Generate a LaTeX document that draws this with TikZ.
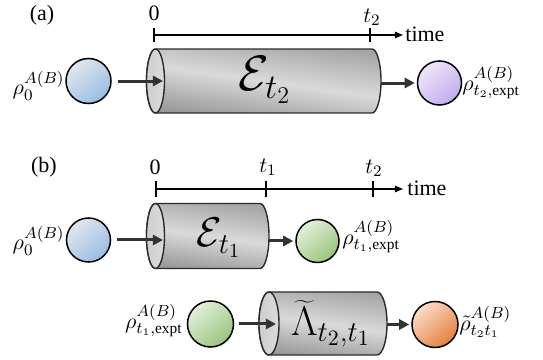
\documentclass[tikz,border=0pt]{standalone}
\usepackage{fontspec}
\setmainfont{Liberation Serif}
\usetikzlibrary{arrows.meta}

\definecolor{blueL}{HTML}{E2E7EE}
\definecolor{blueD}{HTML}{98BDE3}
\definecolor{purL}{HTML}{EEE7F9}
\definecolor{purD}{HTML}{C2ABEF}
\definecolor{grnL}{HTML}{E3F0DA}
\definecolor{grnD}{HTML}{9AC47F}
\definecolor{orgL}{HTML}{FBDDC8}
\definecolor{orgD}{HTML}{E2813F}
\definecolor{cylT}{HTML}{A6A6A6}
\definecolor{cylM}{HTML}{DADADA}
\definecolor{cylB}{HTML}{999999}
\definecolor{endF}{HTML}{DCDCDC}
\definecolor{edge}{HTML}{2B2B2B}

\newcommand\mycyl[5]{%
  \shadedraw[cylbody] (#1,#2+#5) -- (#3,#2+#5)
    arc[start angle=90,end angle=-90,x radius=#4,y radius=#5]
    -- (#1,#2-#5)
    arc[start angle=270,end angle=90,x radius=#4,y radius=#5] -- cycle;
  \filldraw[cylend] (#1,#2) ellipse[x radius=#4,y radius=#5];
}

\tikzset{
  ball/.style={circle, draw=black, line width=0.75pt, minimum size=#1, inner sep=0pt},
  cylbody/.style={draw=edge, line width=0.7pt, top color=cylT, bottom color=cylB, middle color=cylM, shading angle=-8},
  cylend/.style={draw=edge, line width=0.7pt, left color=endF!85!gray, right color=endF},
  conn/.style={draw=black!80, line width=1.5pt, -{Triangle[length=5pt,width=5pt]}},
  axisline/.style={draw=black, line width=0.7pt, -{Triangle[length=4pt,width=3.2pt]}},
  tick/.style={draw=black, line width=0.7pt},
  lbl/.style={inner sep=1pt, font=\fontsize{11}{13}\selectfont},
  txt/.style={inner sep=0pt, font=\fontsize{11}{13}\selectfont},
}

\begin{document}
\begin{tikzpicture}[x=0.5pt,y=0.5pt]
\useasboundingbox (0,0) rectangle (543,360);

% ---------------- (a) ----------------
\node[txt] (lblA) at (42,345) {(a)};
\node[txt] (zeroA) at (154,347) {0};
\node[txt] (t2A) at (372,343) {$t_2$};
\coordinate (axA0) at (154,325);
\coordinate (axA1) at (403,325);
\draw[axisline] (axA0) -- (axA1);
\draw[tick] (154,318) -- (154,332);
\draw[tick] (370,318) -- (370,332);
\node[txt, anchor=west] (timeA) at (405,326) {time};

\node[ball=22.5pt, top color=blueL, bottom color=blueD, shading angle=40] (ballA0) at (88.5,279) {};
\node[lbl, anchor=east] (rhoA0) at (67,274) {$\rho_0^{A(B)}$};

\mycyl{155.5}{279}{372}{9}{32}
\node[inner sep=0pt, font=\fontsize{25}{28}\selectfont] (EA) at (265,280) {$\mathcal{E}_{t_2}$};
\coordinate (cylAin) at (163,278);
\coordinate (cylAout) at (381,277);

\node[ball=22pt, top color=purL, bottom color=purD, shading angle=40] (ballA1) at (439.5,277) {};
\node[lbl, anchor=west] (rhoA1) at (460,277) {$\rho_{t_2,\mathrm{expt}}^{A(B)}$};

\draw[conn, shorten <=3pt] (ballA0) -- (ballA0 -| cylAin);
\draw[conn, shorten >=1pt] (cylAout |- ballA1) -- (ballA1);

% ---------------- (b) ----------------
\node[txt] (lblB) at (44,193) {(b)};
\node[txt] (zeroB) at (155,193) {0};
\node[txt] (t1B) at (268,193) {$t_1$};
\node[txt] (t2B) at (374,192) {$t_2$};
\coordinate (axB0) at (156,171);
\coordinate (axB1) at (403,171);
\draw[axisline] (axB0) -- (axB1);
\draw[tick] (156,163) -- (156,179);
\draw[tick] (266,163) -- (266,179);
\draw[tick] (373,163) -- (373,179);
\node[txt, anchor=west] (timeB) at (407,172) {time};

\node[ball=22pt, top color=blueL, bottom color=blueD, shading angle=40] (ballB0) at (88.5,120) {};
\node[lbl, anchor=east] (rhoB0) at (67,119) {$\rho_0^{A(B)}$};

\mycyl{155.5}{124}{260}{9}{32.5}
\node[inner sep=0pt, font=\fontsize{20}{24}\selectfont] (EB) at (219,122) {$\mathcal{E}_{t_1}$};
\coordinate (cylB1in) at (163,121);
\coordinate (cylB1out) at (269,119);

\node[ball=21.5pt, top color=grnL, bottom color=grnD, shading angle=40] (ballB1) at (317.5,119) {};
\node[lbl, anchor=west] (rhoB1) at (340,123) {$\rho_{t_1,\mathrm{expt}}^{A(B)}$};

\draw[conn, shorten <=3pt] (ballB0) -- (ballB0 -| cylB1in);
\draw[conn, shorten >=1pt] (cylB1out |- ballB1) -- (ballB1);

% row 2
\node[lbl, anchor=east] (rhoB2) at (185,39) {$\rho_{t_1,\mathrm{expt}}^{A(B)}$};
\node[ball=23pt, top color=grnL, bottom color=grnD, shading angle=40] (ballB2) at (210.5,36) {};

\mycyl{269}{36.5}{377}{10}{31.5}
\node[inner sep=0pt, font=\fontsize{21}{24}\selectfont] (LB) at (331,36) {$\widetilde{\Lambda}_{t_2,t_1}$};
\coordinate (cylB2in) at (276,37);
\coordinate (cylB2out) at (387,37);

\node[ball=23pt, top color=orgL, bottom color=orgD, shading angle=40] (ballB3) at (435,35.5) {};
\node[lbl, anchor=west] (rhoB3) at (457,38) {$\tilde{\rho}_{t_2t_1}^{A(B)}$};

\draw[conn, shorten <=2.5pt] (ballB2) -- (ballB2 -| cylB2in);
\draw[conn, shorten >=1pt] (cylB2out |- ballB3) -- (ballB3);
\end{tikzpicture}
\end{document}
